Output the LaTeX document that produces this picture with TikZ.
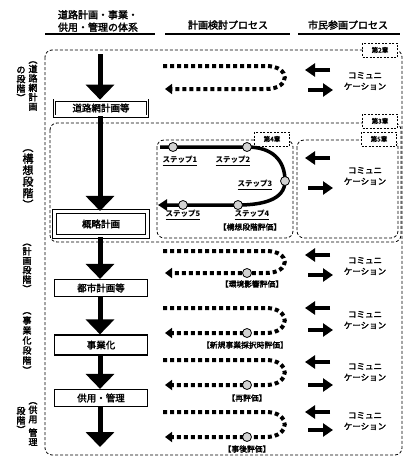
\documentclass[tikz,border=0pt]{standalone}
\usepackage{fontspec}
\setmainfont{Noto Sans CJK JP}[AutoFakeBold=2.2]
\usetikzlibrary{arrows.meta}
\begin{document}
\begin{tikzpicture}[x=1pt,y=-1pt,
  hdr/.style={font=\bfseries\fontsize{10}{12.5}\selectfont, align=center, inner sep=0pt},
  hline/.style={line width=2pt},
  chapbox/.style={dashed, dash pattern=on 3pt off 2pt, line width=0.8pt, rounded corners=7pt},
  chaplbl/.style={draw, dash pattern=on 2pt off 1.5pt, line width=0.8pt, fill=white, font=\bfseries\fontsize{6.5}{7}\selectfont, inner sep=0pt, minimum width=35pt, minimum height=14pt},
  mainarr/.style={line width=5pt, -{Triangle[width=28pt,length=15pt]}},
  planbox/.style={draw, line width=1.2pt, minimum width=93pt, fill=white, inner sep=0pt, font=\bfseries\fontsize{9.5}{10}\selectfont},
  dblbox/.style={planbox, line width=0.7pt, double, double distance=1.6pt},
  dblboxthick/.style={planbox, line width=1.1pt, double, double distance=2.2pt},
  dotloop/.style={line width=4pt, dash pattern=on 4pt off 3pt, -{Triangle[width=10pt,length=7pt]}},
  evalpt/.style={circle, draw, line width=0.8pt, fill=gray!35, minimum size=9pt, inner sep=0pt},
  evallbl/.style={font=\bfseries\fontsize{7.8}{8}\selectfont, inner sep=0pt},
  steplbl/.style={font=\bfseries\itshape\fontsize{7.5}{8}\selectfont, inner sep=0pt},
  comm/.style={font=\bfseries\fontsize{8.5}{11}\selectfont, align=center, inner sep=0pt},
  commarr/.style={line width=3.5pt, -{Triangle[width=13pt,length=10pt]}},
  vlbl/.style={align=center, inner sep=0pt},
  steppath/.style={line width=3.5pt, -{Triangle[width=11pt,length=9pt]}}
]
\useasboundingbox (0,0) rectangle (406,458);
\fill[white] (0,0) rectangle (406,458);

% headers
\node[hdr] (h1) at (98,21) {道路計画・事業・\\供用・管理の体系};
\node[hdr] (h2) at (228,25) {計画検討プロセス};
\node[hdr] (h3) at (348,25) {市民参画プロセス};
\draw[hline] (45,34) -- (155,34);
\draw[hline] (165,34) -- (290,34);
\draw[hline] (298,34) -- (400,34);

% chapter boxes
\draw[chapbox] (45,50) rectangle (402,455);
\node[chaplbl] (c2) at (380,50) {第2章};
\draw[chapbox] (50,123) rectangle (401,242);
\node[chaplbl] (c3) at (380,121) {第3章};
\draw[chapbox] (157,140) rectangle (293,238);
\node[chaplbl] (c4) at (272,139) {第4章};
\draw[chapbox] (297,140) rectangle (398,238);
\node[chaplbl] (c5) at (379,139) {第5章};

% left vertical labels
\node[vlbl, font=\bfseries\fontsize{9}{9.4}\selectfont] (l1a) at (33,86) {︵\\道\\路\\網\\計\\画};
\node[vlbl, font=\bfseries\fontsize{9}{9.4}\selectfont] (l1b) at (21,84) {の\\段\\階\\︶};
\node[vlbl, font=\bfseries\fontsize{11}{11.5}\selectfont] (l2) at (28,179) {︵\\構\\想\\段\\階\\︶};
\node[vlbl, font=\bfseries\fontsize{9}{9.4}\selectfont] (l3) at (27,268) {︵\\計\\画\\段\\階\\︶};
\node[vlbl, font=\bfseries\fontsize{9}{10}\selectfont] (l4) at (27,343) {︵\\事\\業\\化\\段\\階\\︶};
\node[vlbl, font=\bfseries\fontsize{9}{9.4}\selectfont] (l5a) at (33,424) {︵\\供\\用\\[4pt]管\\理};
\node[vlbl, font=\bfseries\fontsize{9}{9.4}\selectfont] (l5b) at (21,420) {段\\階\\︶};

% main flow
\coordinate (top) at (100,54);
\node[dblbox, minimum height=16pt] (b1) at (101,108) {道路網計画等};
\node[dblboxthick, minimum height=25pt] (b2) at (101,224) {概略計画};
\node[planbox, minimum height=17pt] (b3) at (101,288) {都市計画等};
\node[planbox, minimum height=20pt] (b4) at (101,345) {事業化};
\node[planbox, minimum height=17pt] (b5) at (101,398) {供用・管理};
\coordinate (bot) at (100,447);
\draw[mainarr] (top) -- (top|-b1.north);
\draw[mainarr] (b1.south-|top) -- (b2.north-|top);
\draw[mainarr] (b2.south-|top) -- (b3.north-|top);
\draw[mainarr] (b3.south-|top) -- (b4.north-|top);
\draw[mainarr] (b4.south-|top) -- (b5.north-|top);
\draw[mainarr] (b5.south-|top) -- (bot);

% dotted loops
\foreach \n/\ya/\yb in {1/66/89, 3/251/273, 4/308/333, 5/360/385, 6/412/437}{
  \coordinate (d\n a) at (163,\ya);
  \coordinate (d\n b) at (266,\ya);
  \coordinate (d\n c) at (266,\yb);
  \coordinate (d\n d) at (165,\yb);
  \draw[dotloop] (d\n a) -- (d\n b) .. controls +(25,0) and +(25,0) .. (d\n c) -- (d\n d);
}
\node[evalpt] (e3) at (247,273) {};
\node[evalpt] (e4) at (247,333) {};
\node[evalpt] (e5) at (247,385) {};
\node[evalpt] (e6) at (247,437) {};
\node[evallbl] (t3) at (252,284) {【環境影響評価】};
\node[evallbl] (t4) at (245,345) {【新規事業採択時評価】};
\node[evallbl] (t5) at (247,398) {【再評価】};
\node[evallbl] (t6) at (247,449) {【事後評価】};

% steps
\coordinate (s0) at (160,147);
\coordinate (s6) at (158,205);
\coordinate (q1) at (173,147);
\coordinate (q2) at (247,147);
\coordinate (q3) at (285,181);
\coordinate (q4) at (238,205);
\coordinate (q5) at (183,205);
\draw[steppath] (s0) -- (q1) -- (q2) .. controls (272,147) and (285,160) .. (q3) .. controls (285,200) and (262,205) .. (q4) -- (q5) -- (s6);
\node[evalpt] (p1) at (q1) {};
\node[evalpt] (p2) at (q2) {};
\node[evalpt] (p3) at (q3) {};
\node[evalpt] (p4) at (q4) {};
\node[evalpt] (p5) at (q5) {};
\node[steplbl] (st1) at (180,161) {\underline{ステップ1}};
\node[steplbl] (st2) at (233,161) {\underline{ステップ2}};
\node[steplbl] (st3) at (255,185) {\underline{ステップ3}};
\node[steplbl] (st4) at (252,215) {\underline{ステップ4}};
\node[evallbl] (st4b) at (250,227) {【構想段階評価】};
\node[steplbl] (st5) at (183,215) {\underline{ステップ5}};

% communication
\foreach \n/\ya/\yb/\yt in {1/70/90/81, 2/158/188/176, 3/255/275/266, 4/308/330/320, 5/362/385/372, 6/412/430/421}{
  \coordinate (la\n) at (330,\ya);
  \coordinate (lb\n) at (305,\ya);
  \coordinate (ra\n) at (308,\yb);
  \coordinate (rb\n) at (333,\yb);
  \draw[commarr] (la\n) -- (lb\n);
  \draw[commarr] (ra\n) -- (rb\n);
  \node[comm] (cm\n) at (365,\yt) {コミュニ\\ケーション};
}
\end{tikzpicture}
\end{document}
